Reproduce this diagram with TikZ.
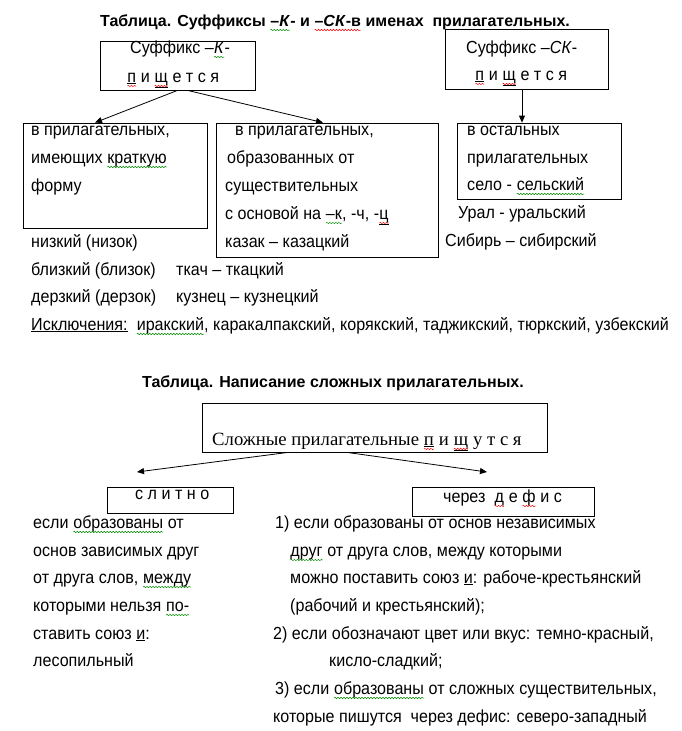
\documentclass[tikz,border=0pt]{standalone}
\usepackage{fontspec}
\setmainfont{Liberation Sans}
\newfontfamily\bodysans[FakeStretch=0.92]{Liberation Sans}
\newfontfamily\timesrm{Liberation Serif}
\usetikzlibrary{arrows.meta,decorations.pathmorphing}
\newcommand\wavy[2]{\tikz[baseline=(w.base)]{\node[inner sep=0pt,outer sep=0pt,anchor=base] (w) at (0pt,0pt) {#2};
    \draw[#1,line width=0.5pt,decorate,decoration={snake,amplitude=0.7pt,segment length=3pt}] ([yshift=-4pt]w.base west) -- ([yshift=-4pt]w.base east);}}
\newcommand\redwave[1]{\wavy{red}{#1}}
\newcommand\greenwave[1]{\wavy{green!55!black}{#1}}

\begin{document}
\begin{tikzpicture}[x=1pt,y=-1pt,
    box/.style={draw, line width=0.8pt, inner sep=0pt},
    txt/.style={anchor=base west, inner sep=0pt, font=\bodysans\fontsize{17.5}{20}\selectfont},
    ttl/.style={anchor=base west, inner sep=0pt, font=\bfseries\fontsize{16}{20}\selectfont},
    arr/.style={line width=0.8pt, -{Triangle[length=7pt,width=6pt]}}]
    \useasboundingbox (0,0) rectangle (681,731);

    % first table
    \node[ttl] (title1) at (100,26) {Таблица. Суффиксы \greenwave{–\textit{К}}- и \redwave{–\textit{СК}-в} именах \ прилагательных.};

    \node[box, minimum width=155, minimum height=49] (sufK) at (177.5,65.5) {};
    \node[box, minimum width=163, minimum height=60] (sufSK) at (526.5,59) {};
    \node[box, minimum width=184, minimum height=105] (shortform) at (115,175.5) {};
    \node[box, minimum width=222, minimum height=134] (fromnoun) at (327,190) {};
    \node[box, minimum width=164, minimum height=76] (others) at (539,161) {};

    \node[txt] (sufKa) at (130,53) {Суффикс –\greenwave{\textit{К}}-};
    \node[txt] (sufKb) at (127,82) {\redwave{\underline{п}} и \redwave{\underline{щ}} е т с я};
    \node[txt] (sufSKa) at (466,53) {Суффикс –\textit{СК}-};
    \node[txt] (sufSKb) at (475,80) {\redwave{\underline{п}} и \redwave{\underline{щ}} е т с я};

    \draw[arr] (sufK.south) -- ([xshift=-20]shortform.north);
    \draw[arr] ([xshift=10]sufK.south) -- ([xshift=-4]fromnoun.north);
    \draw[arr] ([xshift=-4.5]sufSK.south) -- ([xshift=-17]others.north);

    \node[txt] (sfa) at (31,135) {в прилагательных,};
    \node[txt] (sfb) at (31,163) {имеющих \greenwave{краткую}};
    \node[txt] (sfc) at (31,191) {форму};

    \node[txt] (fna) at (235,135) {в прилагательных,};
    \node[txt] (fnb) at (227,163) {образованных от};
    \node[txt] (fnc) at (225,191) {существительных};
    \node[txt] (fnd) at (225,219) {с основой на \greenwave{–к}, -ч, -\redwave{\underline{ц}}};
    \node[txt] (fne) at (225,247) {казак – казацкий};

    \node[txt] (ota) at (467,135) {в остальных};
    \node[txt] (otb) at (467,163) {прилагательных};
    \node[txt] (otc) at (467,190) {село - \greenwave{сельский}};
    \node[txt] (otd) at (458,218) {Урал - уральский};
    \node[txt] (ote) at (445,246) {Сибирь – сибирский};

    \node[txt] (exa) at (31,247) {низкий (низок)};
    \node[txt] (exb) at (31,275) {близкий (близок)};
    \node[txt] (exc) at (176,275) {ткач – ткацкий};
    \node[txt] (exd) at (31,302) {дерзкий (дерзок)};
    \node[txt] (exe) at (176,302) {кузнец – кузнецкий};
    \node[txt] (excl) at (31,330) {\underline{Исключения:} \ \greenwave{иракский}, каракалпакский, корякский, таджикский, тюркский, узбекский};

    % second table
    \node[ttl] (title2) at (142,387) {Таблица. Написание сложных прилагательных.};

    \node[box, minimum width=345, minimum height=49] (compound) at (374.5,427.5) {};
    \node[txt, font=\timesrm\fontsize{18.7}{20}\selectfont] (compa) at (212,445)
        {Сложные прилагательные \redwave{\underline{п}} и \redwave{\underline{щ}} у т с я};
    \node[box, minimum width=126, minimum height=26] (together) at (170,500) {};
    \node[txt] (toga) at (135,499) {с л и т н о};
    \node[box, minimum width=182, minimum height=29] (hyphen) at (503,501.5) {};
    \node[txt] (hypa) at (443,502) {через \ \redwave{д} е \redwave{ф} и с};

    \coordinate (togtip) at (137,472);
    \coordinate (hyptip) at (487,472);
    \draw[arr] ([xshift=-86.5]compound.south) -- (togtip);
    \draw[arr] ([xshift=-27.5]compound.south) -- (hyptip);

    \node[txt] (la) at (33,528) {если \greenwave{образованы} от};
    \node[txt] (lb) at (33,556) {основ зависимых друг};
    \node[txt] (lc) at (33,583) {от друга слов, \greenwave{между}};
    \node[txt] (ld) at (33,611) {которыми нельзя \greenwave{по-}};
    \node[txt] (le) at (33,639) {ставить союз \underline{и}:};
    \node[txt] (lf) at (33,666) {лесопильный};

    \node[txt] (ra) at (275,528) {1) если образованы от основ независимых};
    \node[txt] (rb) at (290,556) {\greenwave{друг} от друга слов, между которыми};
    \node[txt] (rc) at (290,583) {можно поставить союз \underline{и}: рабоче-крестьянский};
    \node[txt] (rd) at (290,611) {(рабочий и крестьянский);};
    \node[txt] (re) at (273,639) {2) если обозначают цвет или вкус: темно-красный,};
    \node[txt] (rf) at (329,666) {кисло-сладкий;};
    \node[txt] (rg) at (275,694) {3) если \greenwave{образованы} от сложных существительных,};
    \node[txt] (rh) at (273,722) {которые пишутся \ через дефис: северо-западный};
\end{tikzpicture}
\end{document}
